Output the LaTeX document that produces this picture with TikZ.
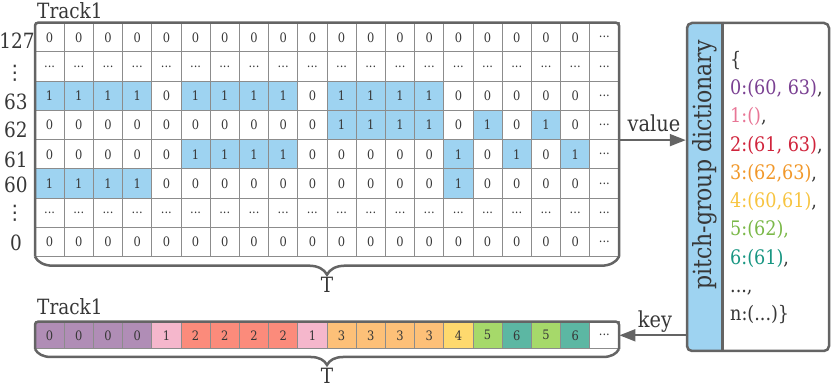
\documentclass[tikz,border=0pt]{standalone}
\usepackage{fontspec}
\setmainfont[FakeStretch=0.88]{DejaVu Serif}
\newfontfamily\symfont{DejaVu Sans}
\usetikzlibrary{arrows.meta,decorations.pathreplacing}
\definecolor{cblue}{RGB}{158,211,241}
\definecolor{framec}{RGB}{100,100,100}
\definecolor{gline}{RGB}{140,140,140}
\definecolor{txt}{RGB}{55,55,55}
\definecolor{k0}{RGB}{176,141,182}
\definecolor{k1}{RGB}{245,183,204}
\definecolor{k2}{RGB}{251,139,123}
\definecolor{k3}{RGB}{253,192,120}
\definecolor{k4}{RGB}{254,217,110}
\definecolor{k5}{RGB}{166,217,106}
\definecolor{k6}{RGB}{92,183,163}
\definecolor{d0}{RGB}{122,64,146}
\definecolor{d1}{RGB}{232,118,150}
\definecolor{d2}{RGB}{208,36,60}
\definecolor{d3}{RGB}{241,152,42}
\definecolor{d4}{RGB}{247,196,64}
\definecolor{d5}{RGB}{122,184,72}
\definecolor{d6}{RGB}{24,150,130}
\def\txtzc{0}\def\txtoc{1}\def\txtdc{...}
\begin{document}
\begin{tikzpicture}[x=1pt,y=-1pt,
  gcell/.style={draw=gline,line width=0.9pt,minimum width=29.2pt,minimum height=29.25pt,
    inner sep=0pt,text=txt,font=\fontsize{13}{13}\selectfont},
  tcell/.style={draw=gline,line width=0.9pt,minimum width=29.2pt,minimum height=27.3pt,
    inner sep=0pt,text=txt,font=\fontsize{13}{13}\selectfont},
  zc/.style={}, oc/.style={fill=cblue}, dc/.style={},
  framel/.style={draw=framec,line width=2.5pt},
  lab/.style={text=txt,inner sep=0pt,font=\fontsize{21}{21}\selectfont},
  vd/.style={text=txt,inner sep=0pt,font=\symfont\fontsize{20}{20}\selectfont},
  dl/.style={text=txt,inner sep=0pt,anchor=base west,font=\fontsize{20}{20}\selectfont},
  arr/.style={draw=framec,line width=2pt,-{Triangle[length=16pt,width=12pt]}}]
\useasboundingbox (0,0) rectangle (831,390);

% grid
\foreach \row [count=\r from 0] in {
 {zc,zc,zc,zc,zc,zc,zc,zc,zc,zc,zc,zc,zc,zc,zc,zc,zc,zc,zc,dc},
 {dc,dc,dc,dc,dc,dc,dc,dc,dc,dc,dc,dc,dc,dc,dc,dc,dc,dc,dc,dc},
 {oc,oc,oc,oc,zc,oc,oc,oc,oc,zc,oc,oc,oc,oc,zc,zc,zc,zc,zc,dc},
 {zc,zc,zc,zc,zc,zc,zc,zc,zc,zc,oc,oc,oc,oc,zc,oc,zc,oc,zc,dc},
 {zc,zc,zc,zc,zc,oc,oc,oc,oc,zc,zc,zc,zc,zc,oc,zc,oc,zc,oc,dc},
 {oc,oc,oc,oc,zc,zc,zc,zc,zc,zc,zc,zc,zc,zc,oc,zc,zc,zc,zc,dc},
 {dc,dc,dc,dc,dc,dc,dc,dc,dc,dc,dc,dc,dc,dc,dc,dc,dc,dc,dc,dc},
 {zc,zc,zc,zc,zc,zc,zc,zc,zc,zc,zc,zc,zc,zc,zc,zc,zc,zc,zc,dc}}{
  \foreach \v [count=\c from 0] in \row {
    \node[gcell,\v] (g-\r-\c) at ({49.6+29.2*\c},{37.3+29.25*\r}) {\csname txt\v\endcsname};
  }
}
\coordinate (gTL) at (35,22.7);
\coordinate (gTR) at (619,22.7);
\coordinate (gBL) at (35,256.7);
\coordinate (gBR) at (619,256.7);
\draw[framel,rounded corners=3pt] (gBL) -- (gTL) -- (gTR) -- (gBR);
\draw[framel,decorate,decoration={brace,mirror,amplitude=18pt}] (gBL) -- (gBR);
\node[lab,anchor=base] (T1) at (327,293) {T};
\node[lab,anchor=base west] (tr1) at (37,19) {Track1};

% row labels
\node[lab] (l127) at (17,41) {127};
\node[vd] (ld1) at (15,73) {⋮};
\node[lab] (l63) at (16,102) {63};
\node[lab] (l62) at (16,130) {62};
\node[lab] (l61) at (16,159.5) {61};
\node[lab] (l60) at (16,185) {60};
\node[vd] (ld2) at (15,213) {⋮};
\node[lab] (l0) at (16,242.5) {0};

% bottom track
\foreach \v [count=\c from 0] in {0,0,0,0,1,2,2,2,2,1,3,3,3,3,4,5,6,5,6}{
  \node[tcell,fill=k\v] (t-\c) at ({49.6+29.2*\c},335.3) {\v};
}
\node[tcell] (t-19) at ({49.6+29.2*19},335.3) {...};
\coordinate (bTL) at (35,321.7);
\coordinate (bTR) at (619,321.7);
\coordinate (bBL) at (35,349);
\coordinate (bBR) at (619,349);
\draw[framel,rounded corners=3pt] (bBL) -- (bTL) -- (bTR) -- (bBR);
\draw[framel,decorate,decoration={brace,mirror,amplitude=16pt}] (bBL) -- (bBR);
\node[lab,anchor=base west] (tr2) at (37,314.5) {Track1};
\node[lab,anchor=base] (T2) at (327,384) {T};

% dictionary
\begin{scope}
  \clip[rounded corners=5pt] (687,23) rectangle (829,351);
  \fill[cblue] (687,23) rectangle (722.7,351);
\end{scope}
\node[framel,rounded corners=5pt,minimum width=142pt,minimum height=328pt,inner sep=0pt]
  (dict) at (758,187) {};
\draw[framel] (722.7,0 |- dict.north) -- (722.7,0 |- dict.south);
\node[lab,rotate=90,font=\fontsize{25}{25}\selectfont] (dtitle) at (704.5,165) {pitch-group dictionary};
\node[dl] (dl0) at (730,66.5) {\{};
\node[dl] (dl1) at (730,94.75) {\textcolor{d0}{0:(60, 63)},};
\node[dl] (dl2) at (730,123) {\textcolor{d1}{1:()},};
\node[dl] (dl3) at (730,151.25) {\textcolor{d2}{2:(61, 63)},};
\node[dl] (dl4) at (730,179.5) {\textcolor{d3}{3:(62,63)},};
\node[dl] (dl5) at (730,207.75) {\textcolor{d4}{4:(60,61)},};
\node[dl] (dl6) at (730,236) {\textcolor{d5}{5:(62),}};
\node[dl] (dl7) at (730,264.25) {\textcolor{d6}{6:(61)},};
\node[dl] (dl8) at (730,292.5) {...,};
\node[dl] (dl9) at (730,320.75) {n:(...)\}};

% arrows
\draw[arr] (g-3-19.south east) -- (g-3-19.south east -| dict.west);
\node[lab,anchor=base,font=\fontsize{22}{22}\selectfont] (vlab) at (654,132) {value};
\draw[arr] (t-19.east -| dict.west) -- (t-19.east);
\node[lab,anchor=base,font=\fontsize{22}{22}\selectfont] (klab) at (655,328) {key};
\end{tikzpicture}
\end{document}
